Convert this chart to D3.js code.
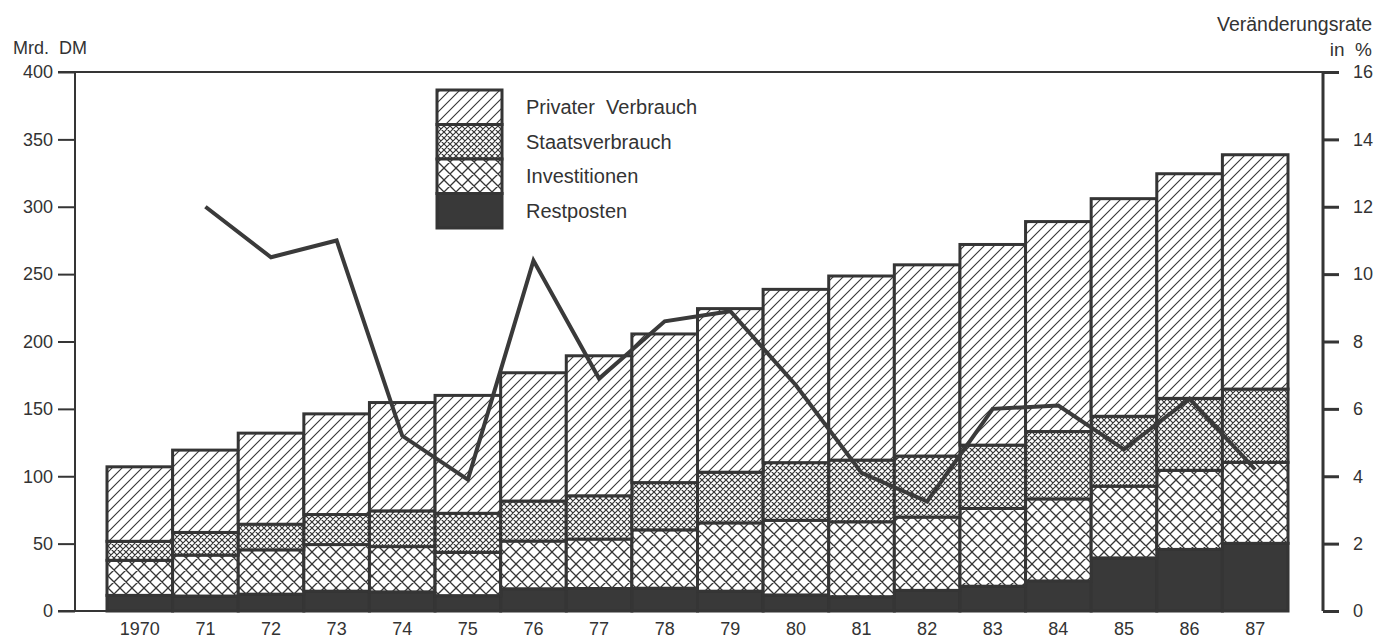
<!DOCTYPE html>
<html>
<head>
<meta charset="utf-8">
<script src="https://cdn.jsdelivr.net/npm/d3@7"></script>
<style>
  html, body { margin: 0; padding: 0; background: #fff; }
  text { font-family: "Liberation Sans", Arial, sans-serif; fill: #333; }
</style>
</head>
<body>
<svg id="chart" width="1383" height="642"></svg>
<script>
// ---- data (Mrd. DM, stacked; rate in %) ----
const years = ["1970","71","72","73","74","75","76","77","78","79","80","81","82","83","84","85","86","87"];
const restposten        = [11.6, 11.1, 12.5, 14.7, 14.2, 11.4, 16.5, 16.7, 16.9, 14.7, 11.9, 10.6, 15.3, 18.4, 22.3, 39.4, 45.7, 50.2];
const investitionen     = [26.0, 30.4, 32.9, 34.6, 33.6, 32.1, 35.4, 36.7, 43.3, 50.7, 55.4, 55.6, 54.4, 57.7, 60.9, 53.2, 58.7, 60.1];
const staatsverbrauch   = [14.1, 16.8, 19.0, 22.3, 26.5, 29.0, 29.7, 32.1, 35.1, 37.6, 42.8, 45.8, 45.3, 47.0, 50.0, 51.9, 53.4, 54.4];
const privaterVerbrauch = [55.3, 61.1, 67.6, 74.7, 80.4, 87.5, 95.2, 103.9, 110.3, 121.4, 128.6, 136.6, 141.9, 148.9, 155.8, 161.5, 166.7, 173.9];
const rateYears = ["71","72","73","74","75","76","77","78","79","80","81","82","83","84","85","86","87"];
const rateValues = [12.0, 10.5, 11.0, 5.2, 3.9, 10.4, 6.9, 8.6, 8.9, 6.7, 4.1, 3.25, 6.0, 6.1, 4.8, 6.3, 4.2];
const leftTicks = [0, 50, 100, 150, 200, 250, 300, 350, 400];
const rightTicks = [0, 2, 4, 6, 8, 10, 12, 14, 16];
const seriesNames = ["Privater Verbrauch", "Staatsverbrauch", "Investitionen", "Restposten"];
const seriesKeys = ["rest", "invest", "staats", "privat"];

const ink = "#353535";
const svg = d3.select("#chart");

// ---- patterns ----
const defs = svg.append("defs");
function hatch(id, size, paths, sw) {
  const p = defs.append("pattern").attr("id", id)
    .attr("patternUnits", "userSpaceOnUse").attr("width", size).attr("height", size);
  p.append("rect").attr("width", size).attr("height", size).attr("fill", "#fff");
  p.append("path").attr("d", paths).attr("stroke", ink).attr("stroke-width", sw).attr("fill", "none");
}
function diag(s) { return `M0,${s} L${s},0 M${-s/4},${s/4} L${s/4},${-s/4} M${s*3/4},${s*5/4} L${s*5/4},${s*3/4}`; }
function cross(s) { return diag(s) + ` M0,0 L${s},${s} M${-s/4},${s*3/4} L${s/4},${s*5/4} M${s*3/4},${-s/4} L${s*5/4},${s/4}`; }
hatch("p-privat", 10, diag(10), 1.1);
hatch("p-staats", 6, cross(6), 1.2);
hatch("p-invest", 12, cross(12), 1.3);
const fills = { privat: "url(#p-privat)", staats: "url(#p-staats)", invest: "url(#p-invest)", rest: "#393939" };

// ---- scales ----
const x = d3.scaleBand().domain(years).range([107, 1288]).padding(0);
const yL = d3.scaleLinear().domain([0, 400]).range([611, 72]);
const yR = d3.scaleLinear().domain([0, 16]).range([611, 72]);

// ---- stacked data ----
const table = years.map((yr, i) => ({ year: yr, rest: restposten[i], invest: investitionen[i], staats: staatsverbrauch[i], privat: privaterVerbrauch[i] }));
const stack = d3.stack().keys(seriesKeys)(table);

const gBars = svg.append("g");
stack.forEach(layer => {
  gBars.append("g").selectAll("rect").data(layer).join("rect")
    .attr("x", d => x(d.data.year))
    .attr("width", x.bandwidth())
    .attr("y", d => yL(d[1]))
    .attr("height", d => yL(d[0]) - yL(d[1]))
    .attr("fill", fills[layer.key])
    .attr("stroke", ink).attr("stroke-width", 3);
});

// ---- axes ----
const axL = svg.append("g").attr("transform", "translate(75,0)")
  .call(d3.axisLeft(yL).tickValues(leftTicks).tickSize(17).tickPadding(5));
axL.select(".domain").attr("stroke", ink).attr("stroke-width", 2).attr("d", `M0,${yL(400)}V${yL(0)}`);
axL.selectAll(".tick line").attr("stroke", ink).attr("stroke-width", 2);
axL.selectAll(".tick text").attr("font-size", 18).attr("fill", "#333");

const axR = svg.append("g").attr("transform", "translate(1323,0)")
  .call(d3.axisRight(yR).tickValues(rightTicks).tickSize(16).tickPadding(14));
axR.select(".domain").attr("stroke", ink).attr("stroke-width", 3).attr("d", `M0,${yR(16)}V${yR(0)}`);
axR.selectAll(".tick line").attr("stroke", ink).attr("stroke-width", 3);
axR.selectAll(".tick text").attr("font-size", 18).attr("fill", "#333");

// top border line & baseline stub
svg.append("line").attr("x1", 58).attr("x2", 1323).attr("y1", yL(400)).attr("y2", yR(16))
  .attr("stroke", ink).attr("stroke-width", 2);
svg.append("line").attr("x1", 58).attr("x2", x(years[0])).attr("y1", yL(0)).attr("y2", yL(0))
  .attr("stroke", ink).attr("stroke-width", 2);

// x labels
const axB = svg.append("g").attr("transform", `translate(0,${yL(0)})`)
  .call(d3.axisBottom(x).tickSize(0).tickPadding(11));
axB.select(".domain").remove();
axB.selectAll(".tick text").attr("font-size", 18).attr("fill", "#333");

// ---- rate line ----
const line = d3.line().x((d, i) => x(rateYears[i]) + x.bandwidth() / 2).y(d => yR(d));
svg.append("path").datum(rateValues).attr("d", line)
  .attr("fill", "none").attr("stroke", "#3a3a3a").attr("stroke-width", 4).attr("stroke-linejoin", "miter");

// ---- titles ----
svg.append("text").attr("x", 13).attr("y", 54).attr("font-size", 18).text("Mrd.  DM").style("white-space", "pre");
svg.append("text").attr("x", 1372).attr("y", 31).attr("font-size", 19.5).attr("text-anchor", "end").text("Veränderungsrate");
svg.append("text").attr("x", 1372).attr("y", 56).attr("font-size", 19).attr("text-anchor", "end").text("in  %").style("white-space", "pre");

// ---- legend ----
const legKeys = ["privat", "staats", "invest", "rest"];
const leg = svg.append("g");
const lh = 34.5;
legKeys.forEach((k, i) => {
  leg.append("rect").attr("x", 437).attr("y", 90 + i * lh).attr("width", 65).attr("height", lh)
    .attr("fill", fills[k]).attr("stroke", ink).attr("stroke-width", 3);
  leg.append("text").attr("x", 526).attr("y", 90 + i * lh + lh / 2 + 7).attr("font-size", 20)
    .style("white-space", "pre").text(seriesNames[i].replace(" ", "  "));
});
</script>
</body>
</html>
